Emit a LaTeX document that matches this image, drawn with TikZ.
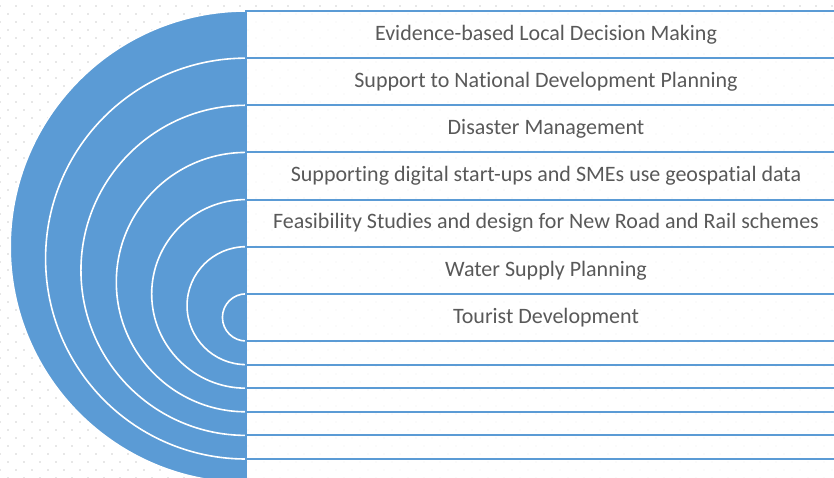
\documentclass[tikz,border=0pt]{standalone}
\usepackage{fontspec}
\setmainfont{Carlito}[Ligatures=NoCommon]
\usetikzlibrary{positioning}
\definecolor{arcblue}{HTML}{5B9BD5}
\definecolor{txtgray}{HTML}{595959}
\definecolor{dotgray}{HTML}{CFCFCF}
\tikzset{
  band/.style={draw=arcblue,line width=2pt,fill=white,fill opacity=0.85},
  ring/.style={fill=arcblue,draw=white,line width=1.6pt},
  itemlbl/.style={text=txtgray,font=\fontsize{22}{26}\selectfont,inner sep=0pt}
}

\begin{document}
\begin{tikzpicture}[x=1pt,y=-1pt]
\useasboundingbox (0,0) rectangle (834,478);
\foreach \r in {0,...,29}{
  \foreach \c in {0,...,52}{
    \fill[dotgray] (16*\c,6+16*\r) circle (0.8);
    \fill[dotgray] (8+16*\c,14+16*\r) circle (0.8);
  }
}
\foreach \i in {0,...,6}{
  \pgfmathsetmacro\top{11+47.14*\i}
  \pgfmathsetmacro\bot{482.6-23.6*\i}
  \pgfmathsetmacro\rad{(\bot-\top)/2}
  \draw[ring] (246,\top) arc[start angle=270,end angle=90,radius=\rad] -- cycle;
}
\foreach \i in {0,...,6}
  \draw[band] (246,11+47.14*\i) rectangle ++(600,47.14);
\foreach \i in {0,...,5}
  \draw[band] (246,341+23.6*\i) rectangle ++(600,23.6);
\foreach \i/\txt in {0/Evidence-based Local Decision Making,
                     1/Support to National Development Planning,
                     2/Disaster Management,
                     3/Supporting digital start-ups and SMEs use geospatial data,
                     4/Feasibility Studies and design for New Road and Rail schemes,
                     5/Water Supply Planning,
                     6/Tourist Development}
  \node[itemlbl] (item\i) at (546,34.57+47.14*\i) {\txt};
\end{tikzpicture}
\end{document}
